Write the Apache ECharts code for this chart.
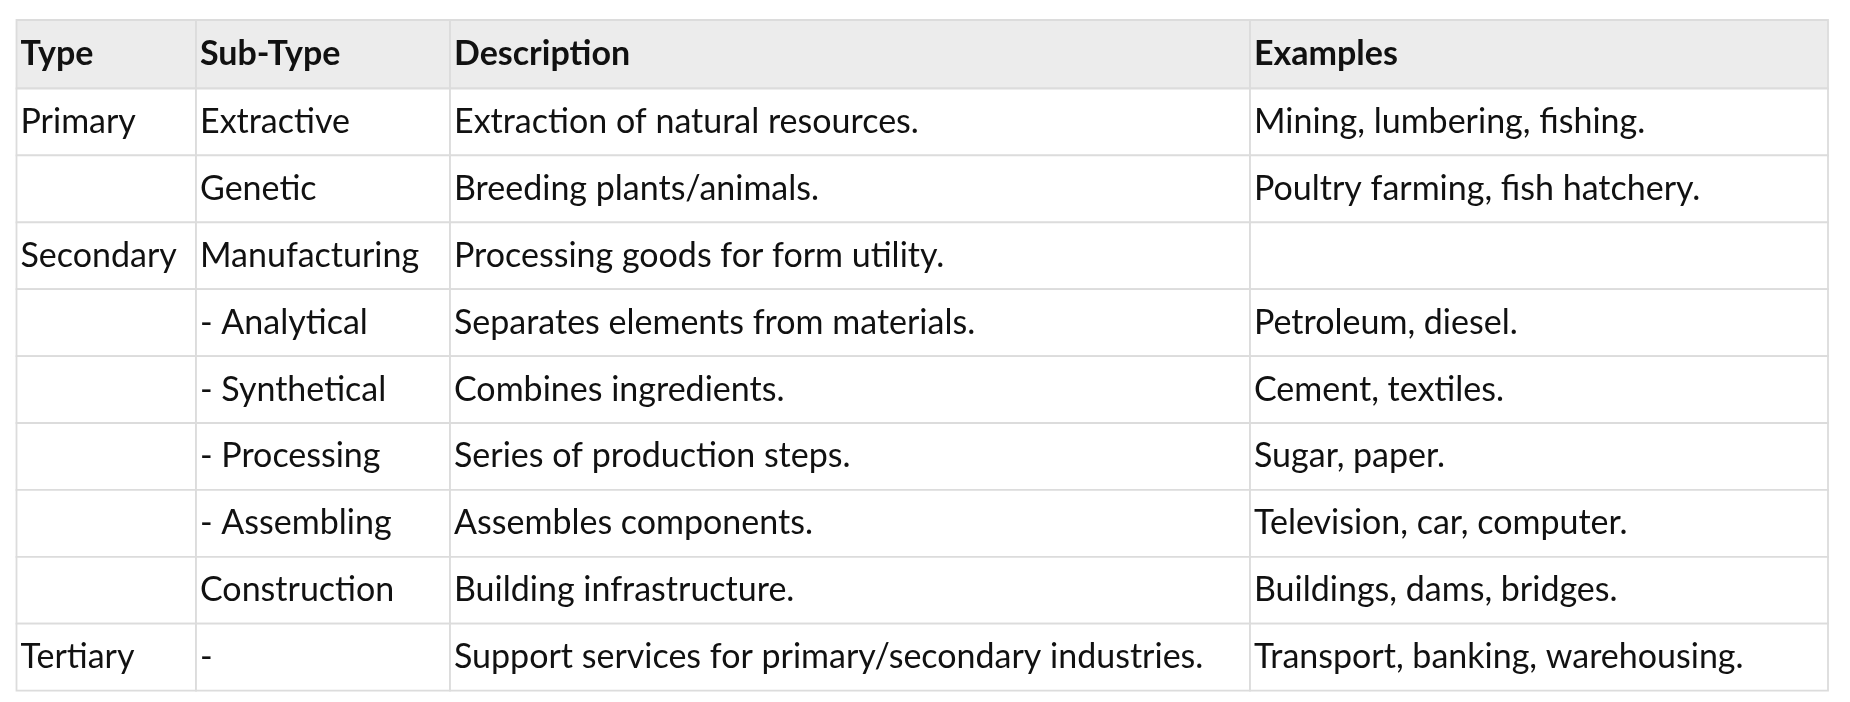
<!DOCTYPE html>
<html>
<head>
<meta charset="utf-8">
<script src="https://cdn.jsdelivr.net/npm/echarts@6/dist/echarts.min.js"></script>
<style>html,body{margin:0;padding:0;background:#fff}#main{width:1850px;height:702px}</style>
</head>
<body>
<div id="main"></div>
<script>
var headers = ['Type', 'Sub-Type', 'Description', 'Examples'];
var types = ['Primary', '', 'Secondary', '', '', '', '', '', 'Tertiary'];
var subTypes = ['Extractive', 'Genetic', 'Manufacturing', '- Analytical', '- Synthetical', '- Processing', '- Assembling', 'Construction', '-'];
var descriptions = [
    'Extraction of natural resources.',
    'Breeding plants/animals.',
    'Processing goods for form utility.',
    'Separates elements from materials.',
    'Combines ingredients.',
    'Series of production steps.',
    'Assembles components.',
    'Building infrastructure.',
    'Support services for primary/secondary industries.'
];
var examples = [
    'Mining, lumbering, fishing.',
    'Poultry farming, fish hatchery.',
    '',
    'Petroleum, diesel.',
    'Cement, textiles.',
    'Sugar, paper.',
    'Television, car, computer.',
    'Buildings, dams, bridges.',
    'Transport, banking, warehousing.'
];

// layout (pixel units of the axes)
var colEdges = [16.5, 196, 450, 1250, 1828];
var tableTop = 20, headerH = 68.5, rowH = 66.9;

var cells = [];
headers.forEach(function (h, c) { cells.push([c, -1, h]); });
for (var r = 0; r < subTypes.length; r++) {
    [types[r], subTypes[r], descriptions[r], examples[r]].forEach(function (t, c) {
        cells.push([c, r, t]);
    });
}

var myChart = echarts.init(document.getElementById('main'));
myChart.setOption({
    animation: false,
    grid: { left: 0, right: 0, top: 0, bottom: 0 },
    xAxis: { type: 'value', min: 0, max: 1850, show: false },
    yAxis: { type: 'value', min: 0, max: 702, inverse: true, show: false },
    series: [{
        type: 'custom',
        data: cells,
        renderItem: function (params, api) {
            var c = api.value(0), r = api.value(1);
            var y0 = r < 0 ? tableTop : tableTop + headerH + r * rowH;
            var y1 = r < 0 ? tableTop + headerH : y0 + rowH;
            var p0 = api.coord([colEdges[c], y0]);
            var p1 = api.coord([colEdges[c + 1], y1]);
            var header = r < 0;
            return {
                type: 'group',
                children: [{
                    type: 'rect',
                    shape: { x: p0[0], y: p0[1], width: p1[0] - p0[0], height: p1[1] - p0[1] },
                    style: { fill: header ? '#ececec' : '#fff', stroke: '#dcdcdc', lineWidth: 1.8 }
                }, {
                    type: 'text',
                    x: p0[0] + 4,
                    y: (p0[1] + p1[1]) / 2,
                    style: {
                        text: cells[params.dataIndex][2],
                        fill: '#111',
                        font: (header ? 'bold ' : '') + '34px Lato, sans-serif',
                        verticalAlign: 'middle',
                        align: 'left'
                    }
                }]
            };
        }
    }]
});
window.addEventListener('resize', function () { myChart.resize(); });
</script>
</body>
</html>
